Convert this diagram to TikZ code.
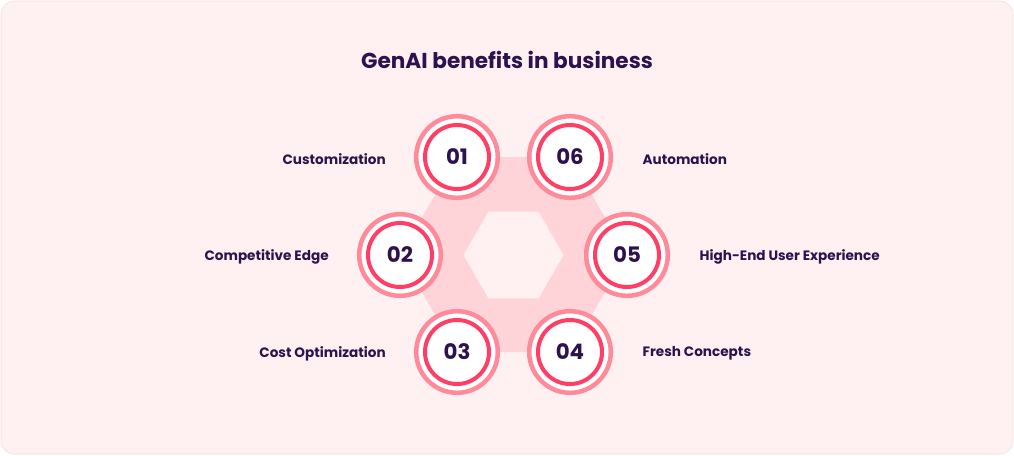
\documentclass[tikz,border=0pt]{standalone}
\usepackage{fontspec}
\setmainfont{Poppins}
\usetikzlibrary{positioning, calc}
\definecolor{bgpink}{HTML}{FFF1F1}
\definecolor{bgline}{HTML}{F3DCDC}
\definecolor{bandpink}{HTML}{FFD4D9}
\definecolor{ringlight}{HTML}{FF8B9A}
\definecolor{ringred}{HTML}{FF3E66}
\definecolor{ink}{HTML}{2E1250}
\tikzset{
    badge/.style={circle, fill=white, draw=ringlight, line width=3.4pt,
        minimum size=61.2pt, inner sep=0pt, text=ink,
        font=\bfseries\fontsize{16}{16}\selectfont,
        path picture={\draw[ringred, line width=3pt]
            (path picture bounding box.center) circle (24pt);}},
    benefit/.style={text=ink, font=\bfseries\fontsize{10.2}{12}\selectfont,
        inner sep=0pt, yshift=-1.2pt},
    title/.style={text=ink, font=\bfseries\fontsize{16.2}{18}\selectfont},
}
\begin{document}
\begin{tikzpicture}[x=0.75pt, y=-0.75pt]
    \useasboundingbox (0,0) rectangle (1014,455);
    \draw[fill=bgpink, draw=bgline, rounded corners=10pt] (1,1) rectangle (1013,454);

    \node[title] (head) at (507,60) {GenAI benefits in business};

    % hexagon corners, clockwise from top left
    \coordinate (h1) at (457,157);
    \coordinate (h6) at (570,157);
    \coordinate (h5) at (627,255);
    \coordinate (h4) at (570,352);
    \coordinate (h3) at (457,352);
    \coordinate (h2) at (400,255);
    \coordinate (mid) at (513.5,255);

    \fill[bandpink] (h1) -- (h6) -- (h5) -- (h4) -- (h3) -- (h2) -- cycle;
    \fill[bgpink] ($(mid)+(-25,-43.3)$) -- ++(50,0) -- ++(25,43.3) -- ++(-25,43.3)
        -- ++(-50,0) -- ++(-25,-43.3) -- cycle;

    \node[badge] (c1) at (h1) {01};
    \node[badge] (c2) at (h2) {02};
    \node[badge] (c3) at (h3) {03};
    \node[badge] (c4) at (h4) {04};
    \node[badge] (c5) at (h5) {05};
    \node[badge] (c6) at (h6) {06};

    \node[benefit, left=21pt of c1] (l1) {Customization};
    \node[benefit, left=21pt of c2] (l2) {Competitive Edge};
    \node[benefit, left=21pt of c3] (l3) {Cost Optimization};
    \node[benefit, right=22pt of c4] (l4) {Fresh Concepts};
    \node[benefit, right=22pt of c5] (l5) {High-End User Experience};
    \node[benefit, right=22pt of c6] (l6) {Automation};
\end{tikzpicture}
\end{document}
